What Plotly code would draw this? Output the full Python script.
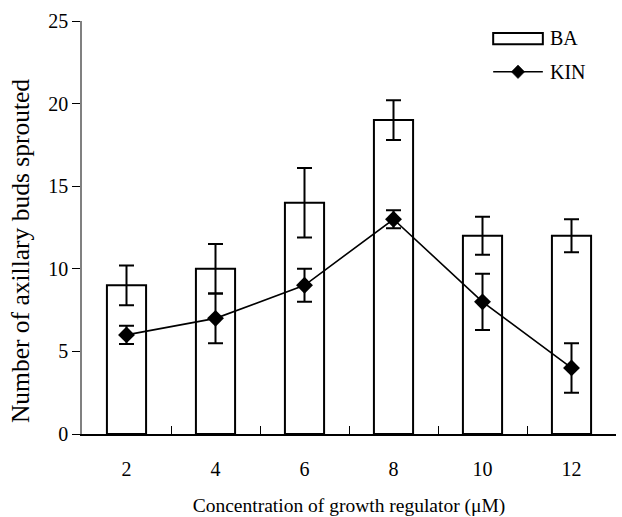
import plotly.graph_objects as go

categories = ["2", "4", "6", "8", "10", "12"]
ba_values = [9, 10, 14, 19, 12, 12]
ba_errors = [1.2, 1.5, 2.1, 1.2, 1.15, 1.0]
kin_values = [6, 7, 9, 13, 8, 4]
kin_errors = [0.55, 1.5, 1.0, 0.55, 1.7, 1.5]
y_ticks = [0, 5, 10, 15, 20, 25]
legend_names = ["BA", "KIN"]
x_title = "Concentration of growth regulator (μM)"
y_title = "Number of axillary buds sprouted"

FONT = "Liberation Serif, Times New Roman, serif"

fig = go.Figure()
fig.add_trace(go.Bar(
    x=categories, y=ba_values, name=legend_names[0], width=0.44,
    marker=dict(color="white", line=dict(color="black", width=2)),
    error_y=dict(type="data", array=ba_errors, color="black", thickness=2, width=7.5),
    showlegend=False,
))
fig.add_trace(go.Scatter(
    x=categories, y=kin_values, name=legend_names[1], mode="lines+markers",
    line=dict(color="black", width=1.6),
    marker=dict(symbol="diamond", size=13, color="black"),
    error_y=dict(type="data", array=kin_errors, color="black", thickness=2, width=7.5),
    showlegend=False,
))

# manual legend (paper coordinates)
lx0, lx1 = 0.770, 0.863
dcx, ddx, ddy, ly = 0.8165, 0.0125, 0.0165, 0.877
shapes = [
    dict(type="rect", xref="paper", yref="paper", x0=lx0, x1=lx1, y0=0.944, y1=0.971,
         line=dict(color="black", width=2), fillcolor="white"),
    dict(type="line", xref="paper", yref="paper", x0=lx0, x1=lx1, y0=ly, y1=ly,
         line=dict(color="black", width=1.6)),
    dict(type="path", xref="paper", yref="paper",
         path=f"M {dcx-ddx} {ly} L {dcx} {ly+ddy} L {dcx+ddx} {ly} L {dcx} {ly-ddy} Z",
         fillcolor="black", line=dict(color="black", width=0.5)),
]
annotations = [
    dict(xref="paper", yref="paper", x=0.872, y=0.958, text=legend_names[0], showarrow=False,
         xanchor="left", yanchor="middle", font=dict(size=20)),
    dict(xref="paper", yref="paper", x=0.872, y=ly, text=legend_names[1], showarrow=False,
         xanchor="left", yanchor="middle", font=dict(size=20)),
    dict(xref="paper", yref="paper", x=-0.116, y=0.443, text=y_title, showarrow=False,
         textangle=-90, xanchor="center", yanchor="middle", font=dict(size=25.5)),
]

fig.update_layout(
    width=622, height=517,
    margin=dict(l=82, r=6, t=21, b=83),
    paper_bgcolor="white", plot_bgcolor="white",
    font=dict(family=FONT, size=20, color="black"),
    showlegend=False,
    shapes=shapes, annotations=annotations,
)
fig.update_xaxes(
    type="category", showline=True, linecolor="black", linewidth=1.5,
    ticks="inside", ticklen=8, tickcolor="black", tickwidth=1, tickson="boundaries",
    showgrid=False, zeroline=False, ticklabelstandoff=16, automargin=False,
    tickfont=dict(size=20),
    title=dict(text=x_title, font=dict(size=19.5), standoff=20),
)
fig.update_yaxes(
    range=[0, 25], tickvals=y_ticks, showline=True, linecolor="#808080", linewidth=1.5,
    ticks="outside", ticklen=8, tickcolor="black", tickwidth=1,
    showgrid=False, zeroline=False, automargin=False,
    tickfont=dict(size=20),
)

fig.write_html("out.html", config={"displayModeBar": False},
               post_script="document.body.style.margin='0';")
